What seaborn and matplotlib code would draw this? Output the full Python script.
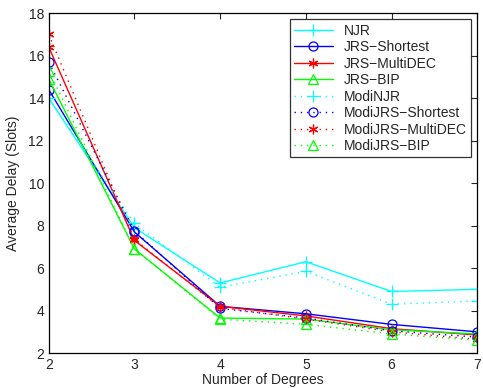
import pandas as pd
import seaborn as sns
import matplotlib.pyplot as plt

# Dados
graus = [2, 3, 4, 5, 6, 7]
njr = [14.0, 7.9, 5.3, 6.3, 4.9, 5.0]
jrs_shortest = [14.4, 7.7, 4.2, 3.85, 3.35, 3.0]
jrs_multidec = [16.4, 7.3, 4.2, 3.75, 3.15, 2.85]
jrs_bip = [14.9, 6.9, 3.65, 3.6, 3.1, 2.9]
modi_njr = [14.0, 8.1, 5.1, 5.85, 4.3, 4.45]
modi_shortest = [15.7, 7.75, 4.1, 3.65, 3.05, 2.75]
modi_multidec = [17.0, 7.35, 4.15, 3.6, 3.0, 2.65]
modi_bip = [15.3, 6.9, 3.6, 3.35, 2.9, 2.6]

nomes = ["NJR", "JRS\u2212Shortest", "JRS\u2212MultiDEC", "JRS\u2212BIP",
         "ModiNJR", "ModiJRS\u2212Shortest", "ModiJRS\u2212MultiDEC", "ModiJRS\u2212BIP"]
series = [njr, jrs_shortest, jrs_multidec, jrs_bip,
          modi_njr, modi_shortest, modi_multidec, modi_bip]
cores = ["#00ffff", "#0000ff", "#ff0000", "#00ff00"] * 2
# asterisco estilo MATLAB = (6, 2, 0)
marcadores = ["+", "o", (6, 2, 0), "^"] * 2
tamanhos = [8, 6.5, 7, 7] * 2
estilos = ["-"] * 4 + [(0, (1, 3.5))] * 4

# Estilo tipo MATLAB
sns.set_style("white")
plt.rcParams["font.family"] = ["Liberation Sans", "DejaVu Sans"]
plt.rcParams["xtick.direction"] = "in"
plt.rcParams["ytick.direction"] = "in"

fig = plt.figure(figsize=(4.83, 3.88), dpi=100)
ax = fig.add_axes([0.101, 0.090, 0.887, 0.876])

for nome, vals, cor, mk, ms, ls in zip(nomes, series, cores, marcadores, tamanhos, estilos):
    df = pd.DataFrame({"Grau": graus, "Atraso": vals})
    sns.lineplot(data=df, x="Grau", y="Atraso", ax=ax, color=cor, marker=mk,
                 linestyle=ls, linewidth=1.0, markersize=ms,
                 markerfacecolor="none", markeredgecolor=cor, markeredgewidth=0.9,
                 label=nome)

ax.set_xlim(2, 7)
ax.set_ylim(2, 18)
ax.set_xticks(graus)
ax.set_yticks(range(2, 19, 2))
ax.tick_params(axis="both", labelsize=10, top=True, right=True, length=4, width=0.8)
for s in ax.spines.values():
    s.set_color("black")
    s.set_linewidth(0.9)
ax.set_xlabel("Number of Degrees", fontsize=10, labelpad=1)
ax.set_ylabel("Average Delay (Slots)", fontsize=10, labelpad=6)

leg = ax.legend(loc="upper right", fontsize=10, frameon=True, fancybox=False,
                edgecolor="black", handlelength=2.8, borderpad=0.3,
                labelspacing=0.18, borderaxespad=0.45)
leg.get_frame().set_linewidth(0.9)

fig.savefig("out.png", dpi=100)
